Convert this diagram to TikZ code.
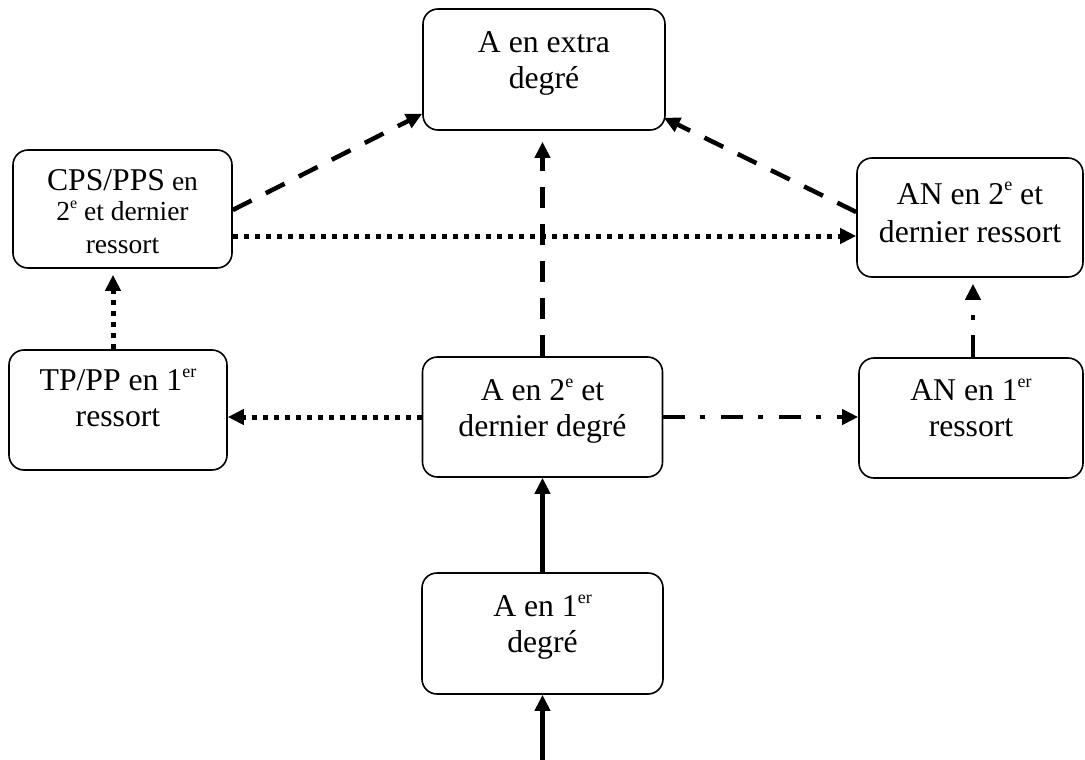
\documentclass[tikz,border=0pt]{standalone}
\usepackage{fontspec}
\setmainfont{Liberation Serif}
\usetikzlibrary{arrows.meta,calc}
\newcommand\sups[2][18]{\raisebox{0.42em}{\fontsize{#1}{#1}\selectfont #2}}
\tikzset{
  box/.style={draw=black, line width=1.6pt, rounded corners=15pt, inner sep=0pt},
  lbl/.style={anchor=north, inner sep=0pt, align=center, font=\fontsize{31.7}{36}\selectfont},
  tip/.style={-{Triangle[length=16pt,width=15pt]}},
  solidarr/.style={tip, line width=4.2pt},
  dasharr/.style={tip, line width=4.5pt, dash pattern=on 21pt off 16pt},
  dotarr/.style={tip, line width=5pt, dash pattern=on 5pt off 6pt},
  dashdotarr/.style={tip, line width=4.5pt, dash pattern=on 22pt off 15pt on 5pt off 16pt},
}
\begin{document}
\begin{tikzpicture}[x=1pt,y=-1pt]
\useasboundingbox (0,0) rectangle (1085,760);
% boxes
\node[box, minimum width=242pt, minimum height=121pt] (extra) at (544,69.5) {};
\node[box, minimum width=240pt, minimum height=120pt] (A2) at (542.5,417) {};
\node[box, minimum width=241pt, minimum height=121pt] (A1) at (542.5,633.5) {};
\node[box, minimum width=219pt, minimum height=118pt] (CPS) at (122.5,209) {};
\node[box, minimum width=226pt, minimum height=119pt] (AN2) at (970,217.5) {};
\node[box, minimum width=218pt, minimum height=120pt] (TP) at (118,410) {};
\node[box, minimum width=224pt, minimum height=120pt] (AN1) at (971,418) {};
% texts
\node[lbl] (extraT) at ([yshift=-18.8pt]extra.north) {\strut A en extra\\\strut degré};
\node[lbl] (A2T) at ([yshift=-18.8pt]A2.north) {\strut A en 2\sups{e} et\\\strut dernier degré};
\node[lbl] (A1T) at ([yshift=-18.8pt]A1.north) {\strut A en 1\sups{er}\\\strut degré};
\node[lbl] (AN1T) at ([yshift=-17.8pt]AN1.north) {\strut AN en 1\sups{er}\\\strut ressort};
\node[lbl] (TPT) at ([yshift=-15.8pt]TP.north) {\strut TP/PP en 1\sups{er}\\\strut ressort};
\node[lbl] (AN2T) at ([yshift=-21.5pt]AN2.north) {\strut AN en 2\sups{e} et\\[2pt]\strut dernier ressort};
\node[lbl, font=\fontsize{27.5}{29}\selectfont] (CPST) at ([yshift=-20pt]CPS.north)
  {{\fontsize{31.7}{36}\selectfont CPS/PPS} en\rule[-8pt]{0pt}{25pt}\\[1pt]\strut 2\sups[16]{e} et dernier\\[4pt]\strut ressort};
% helper coordinates
\coordinate (bot) at (542.5,760);
\coordinate (c1) at ([yshift=-27pt]CPS.east);
\coordinate (c2) at ([xshift=-5pt]TP.north);
\coordinate (c3) at ([xshift=2pt]AN1.north);
% connectors
\draw[solidarr] (bot) -- (bot |- A1.south);
\draw[solidarr] (A1.north) -- (A1.north |- A2.south);
\draw[dasharr, shorten >=11pt] (A2.north) -- (A2.north |- extra.south);
\draw[dasharr] ([yshift=-1pt]CPS.east) -- ([yshift=17pt]extra.south west);
\draw[dasharr] ([yshift=5.5pt]AN2.west) -- ([xshift=-2pt,yshift=13pt]extra.south east);
\draw[dotarr] (c1) -- (c1 -| AN2.west);
\draw[dotarr, shorten >=6pt] (c2) -- (c2 |- CPS.south);
\draw[dotarr] (A2.west) -- (A2.west -| TP.east);
\draw[dashdotarr] (A2.east) -- (A2.east -| AN1.west);
\draw[dashdotarr, shorten >=6pt] (c3) -- (c3 |- AN2.south);
\end{tikzpicture}
\end{document}
